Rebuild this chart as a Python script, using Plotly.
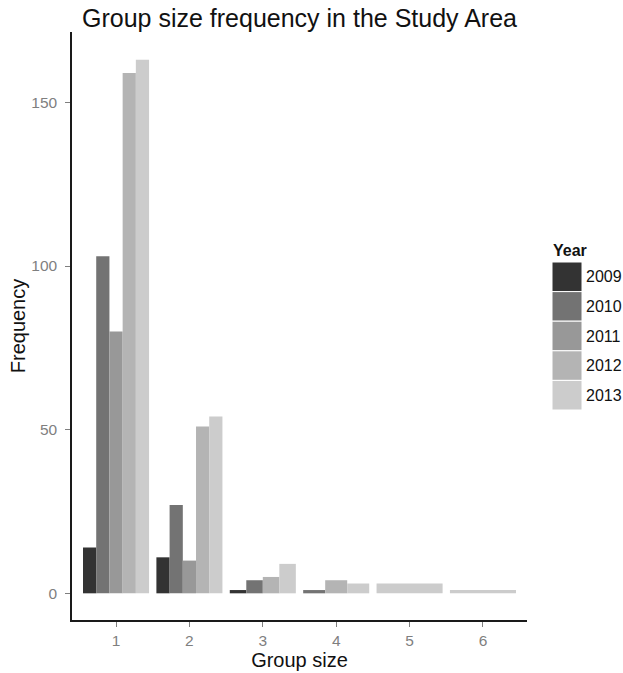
import plotly.graph_objects as go

group_sizes = [1, 2, 3, 4, 5, 6]
years = ["2009", "2010", "2011", "2012", "2013"]
freq_2009 = [14, 11, 1, None, None, None]
freq_2010 = [103, 27, 4, 1, None, None]
freq_2011 = [80, 10, None, None, None, None]
freq_2012 = [159, 51, 5, 4, None, None]
freq_2013 = [163, 54, 9, 3, 3, 1]
colors = ["#333333", "#737373", "#989898", "#B4B4B4", "#CCCCCC"]
y_ticks = [0, 50, 100, 150]
x_ticks = ["1", "2", "3", "4", "5", "6"]

series = [freq_2009, freq_2010, freq_2011, freq_2012, freq_2013]
dodge = 0.9

fig = go.Figure()
# ggplot-style dodge: split width among years present at each group size
for yi, (yr, vals, col) in enumerate(zip(years, series, colors)):
    xs, ys, offs, wids = [], [], [], []
    for gi, g in enumerate(group_sizes):
        if vals[gi] is None:
            continue
        present = [k for k in range(len(years)) if series[k][gi] is not None]
        n = len(present)
        w = dodge / n
        pos = present.index(yi)
        xs.append(g)
        ys.append(vals[gi])
        offs.append(-dodge / 2 + pos * w)
        wids.append(w)
    fig.add_trace(go.Bar(x=xs, y=ys, offset=offs, width=wids, name=yr,
                         marker=dict(color=col, line=dict(width=0)),
                         showlegend=False))

W, H = 623, 673
L, R, T, B = 72, 96, 32, 53
PW, PH = W - L - R, H - T - B


def px_x(sx):
    return (sx - L) / PW


def px_y(sy):
    return 1 - (sy - T) / PH


# manual ggplot-like legend
key_h = 29.6
for i, (yr, col) in enumerate(zip(years, colors)):
    top = 262 + i * key_h
    fig.add_shape(type="rect", xref="paper", yref="paper",
                  x0=px_x(552), x1=px_x(582), y0=px_y(top + key_h), y1=px_y(top),
                  fillcolor=col, line=dict(color="white", width=1))
    fig.add_annotation(xref="paper", yref="paper", x=px_x(584), y=px_y(top + key_h / 2),
                       text=yr, showarrow=False, xanchor="left", yanchor="middle",
                       font=dict(size=16, color="#111111"))
fig.add_annotation(xref="paper", yref="paper", x=px_x(551), y=px_y(250),
                   text="<b>Year</b>", showarrow=False, xanchor="left", yanchor="middle",
                   font=dict(size=16, color="#111111"))

fig.update_layout(
    width=W, height=H,
    margin=dict(l=L, r=R, t=T, b=B),
    plot_bgcolor="white", paper_bgcolor="white",
    barmode="overlay",
    font=dict(family="Liberation Sans, Arial, sans-serif"),
    title=dict(text="Group size frequency in the Study Area", xref="paper", x=0.5,
               xanchor="center", yref="container", y=1 - 9 / H, yanchor="top",
               font=dict(size=25, color="#111111")),
    xaxis=dict(range=[0.4, 6.6], tickvals=group_sizes, ticktext=x_ticks,
               showgrid=False, zeroline=False, showline=True, linecolor="#1a1a1a",
               linewidth=1.5, ticks="outside", ticklen=5, tickcolor="#7f7f7f",
               ticklabelstandoff=1, automargin=False,
               tickfont=dict(size=15.5, color="#7f7f7f"),
               title=dict(text="Group size", font=dict(size=20, color="#111111"), standoff=1)),
    yaxis=dict(range=[-8.15, 171.5], tickvals=y_ticks,
               showgrid=False, zeroline=False, showline=True, linecolor="#1a1a1a",
               linewidth=1.5, ticks="outside", ticklen=5, tickcolor="#7f7f7f",
               ticklabelstandoff=5, automargin=False,
               tickfont=dict(size=15.5, color="#7f7f7f"),
               title=dict(text="Frequency", font=dict(size=20, color="#111111"), standoff=0)),
)

fig.write_html("out.html", config={"displayModeBar": False},
               post_script="document.body.style.margin='0';document.body.style.overflow='hidden';")
